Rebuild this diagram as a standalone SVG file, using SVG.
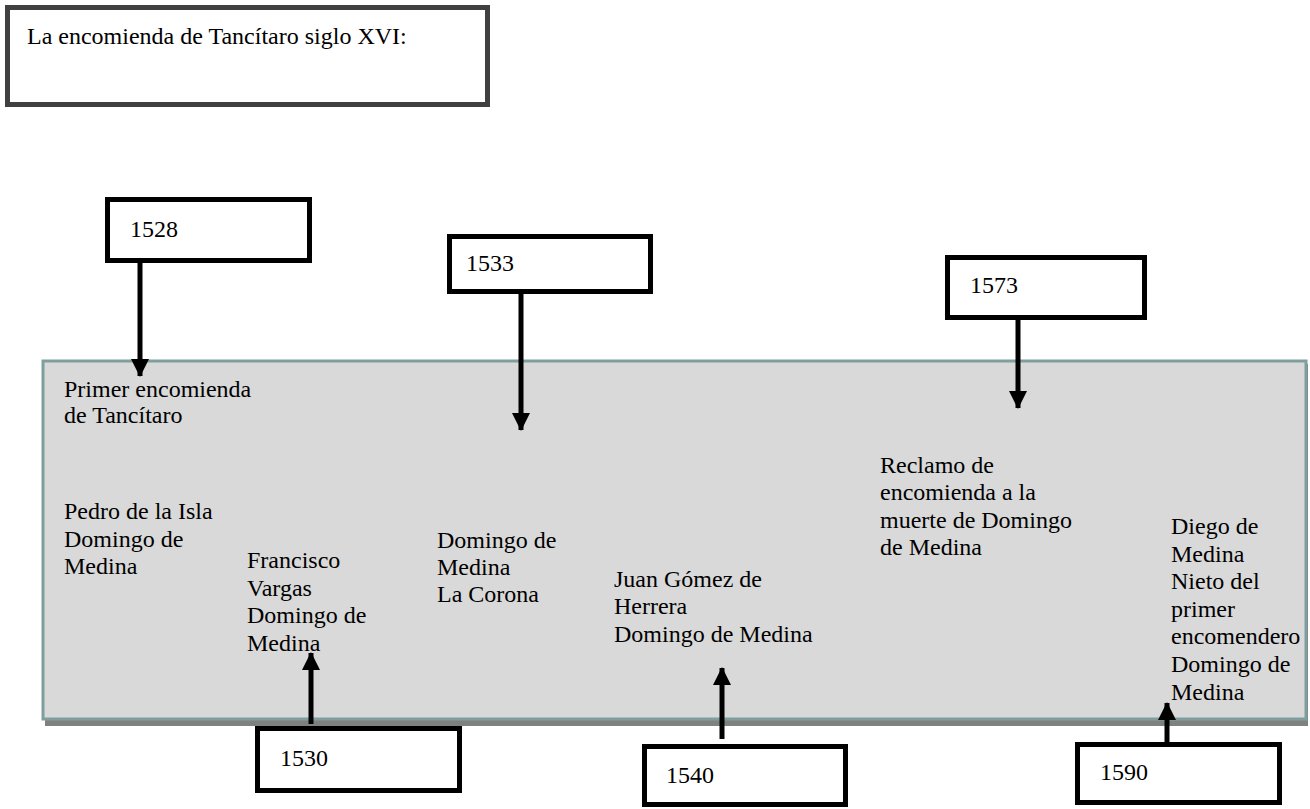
<svg xmlns="http://www.w3.org/2000/svg" width="1310" height="809" viewBox="0 0 1310 809">
<defs>
<style>
text{font-family:"Liberation Serif","Times New Roman",serif;font-size:24px;fill:#000}
.box{fill:#fff;stroke:#000;stroke-width:5}
.conn line{stroke:#000;stroke-width:5}
</style>
<marker id="ah" markerUnits="userSpaceOnUse" markerWidth="18" markerHeight="20" refX="17" refY="9" orient="auto" viewBox="0 0 18 18">
<path d="M0,0 L18,9 L0,18 Z" fill="#000"/>
</marker>
</defs>
<rect width="1310" height="809" fill="#fff"/>
<g id="title">
<rect x="7.5" y="7.5" width="480" height="97" fill="#fff" stroke="#404040" stroke-width="5"/>
<text x="27" y="44">La encomienda de Tancítaro siglo XVI:</text>
</g>
<g id="panel">
<rect x="45" y="364" width="1263" height="362" fill="#808080"/>
<rect x="43" y="361" width="1263" height="358" fill="#d9d9d9" stroke="#7f9f9f" stroke-width="3"/>
</g>
<g id="t1528">
<text x="64" y="397">Primer encomienda</text>
<text x="64" y="423">de Tancítaro</text>
</g>
<g id="t1528b">
<text x="64" y="519">Pedro de la Isla</text>
<text x="64" y="547">Domingo de</text>
<text x="64" y="574">Medina</text>
</g>
<g id="t1530">
<text x="247" y="568">Francisco</text>
<text x="247" y="596">Vargas</text>
<text x="247" y="623">Domingo de</text>
<text x="247" y="651">Medina</text>
</g>
<g id="t1533">
<text x="437" y="548">Domingo de</text>
<text x="437" y="575">Medina</text>
<text x="437" y="602">La Corona</text>
</g>
<g id="t1540">
<text x="614" y="587">Juan Gómez de</text>
<text x="614" y="614">Herrera</text>
<text x="614" y="642">Domingo de Medina</text>
</g>
<g id="t1573">
<text x="880" y="473">Reclamo de</text>
<text x="880" y="500">encomienda a la</text>
<text x="880" y="528">muerte de Domingo</text>
<text x="880" y="555">de Medina</text>
</g>
<g id="t1590">
<text x="1171" y="534">Diego de</text>
<text x="1171" y="562">Medina</text>
<text x="1171" y="589">Nieto del</text>
<text x="1171" y="617">primer</text>
<text x="1171" y="644">encomendero</text>
<text x="1171" y="672">Domingo de</text>
<text x="1171" y="700">Medina</text>
</g>
<g class="conn" id="connectors">
<line x1="140" y1="263" x2="140" y2="376" marker-end="url(#ah)"/>
<line x1="521" y1="294" x2="521" y2="430" marker-end="url(#ah)"/>
<line x1="1018" y1="320" x2="1018" y2="408" marker-end="url(#ah)"/>
<line x1="311" y1="724" x2="311" y2="653" marker-end="url(#ah)"/>
<line x1="722" y1="739" x2="722" y2="668" marker-end="url(#ah)"/>
<line x1="1167" y1="745" x2="1167" y2="703" marker-end="url(#ah)"/>
</g>
<g id="b1528"><rect class="box" x="107.5" y="199.5" width="202" height="61"/><text x="130" y="237">1528</text></g>
<g id="b1533"><rect class="box" x="449.5" y="236.5" width="201" height="55"/><text x="466" y="271">1533</text></g>
<g id="b1573"><rect class="box" x="947.5" y="257.5" width="197" height="60"/><text x="970" y="293">1573</text></g>
<g id="b1530"><rect class="box" x="257.5" y="728.5" width="202" height="62"/><text x="280" y="766">1530</text></g>
<g id="b1540"><rect class="box" x="644.5" y="746.5" width="201" height="58"/><text x="666" y="783">1540</text></g>
<g id="b1590"><rect class="box" x="1077.5" y="744.5" width="202" height="58"/><text x="1100" y="780">1590</text></g>
</svg>
